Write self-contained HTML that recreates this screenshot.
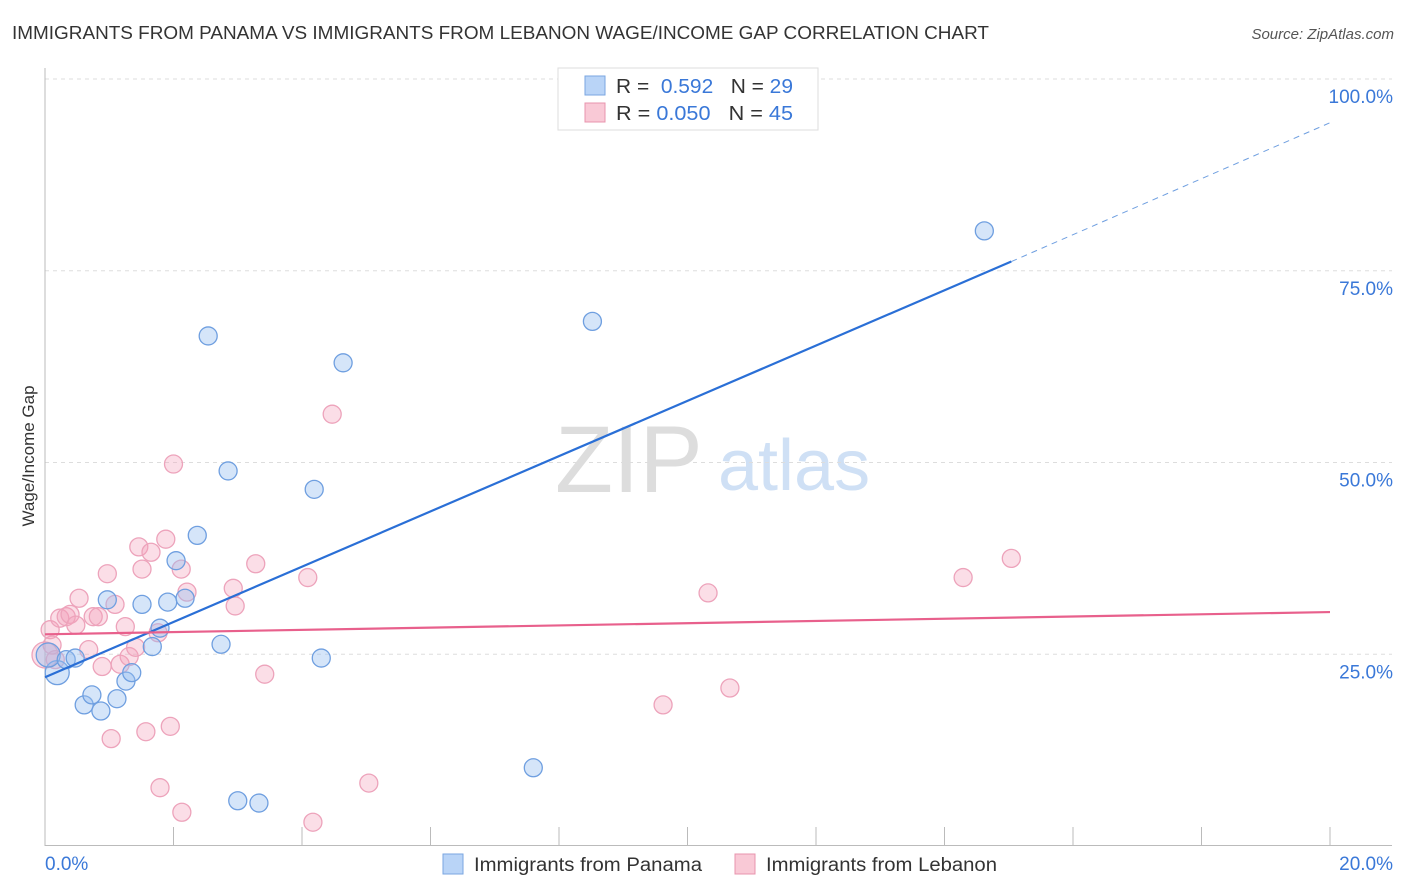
<!DOCTYPE html>
<html><head><meta charset="utf-8"><style>
body{margin:0;background:#fff;font-family:"Liberation Sans",sans-serif;}
#wrap{position:relative;width:1406px;height:892px;overflow:hidden}
text{font-family:"Liberation Sans",sans-serif}
</style></head><body><div id="wrap">
<svg id="svg" width="1406" height="892" xmlns="http://www.w3.org/2000/svg">
<text x="12" y="39" font-size="18" fill="#333" textLength="977" lengthAdjust="spacingAndGlyphs">IMMIGRANTS FROM PANAMA VS IMMIGRANTS FROM LEBANON WAGE/INCOME GAP CORRELATION CHART</text>
<text x="1394" y="39" font-size="15" fill="#555" text-anchor="end" font-style="italic">Source: ZipAtlas.com</text>
<text x="34" y="456" font-size="17" fill="#333" text-anchor="middle" transform="rotate(-90 34 456)">Wage/Income Gap</text>
<text x="555" y="492" font-size="95" fill="#ddd" font-family="Liberation Serif">ZIP</text>
<text x="718" y="490" font-size="72" fill="#cfe0f5">atlas</text>
<g id="grid"></g><g id="pts"></g><g id="lines"></g>
<g>
<rect x="558" y="68" width="260" height="62" fill="#fff" stroke="#ddd"/>
<rect x="585" y="76" width="20" height="19" fill="#b9d4f7" stroke="#7aa6e0"/>
<text x="616" y="93" font-size="20" fill="#333" textLength="177" lengthAdjust="spacingAndGlyphs">R = <tspan fill="#3a78d8">&#160;0.592</tspan>&#160;&#160;&#160;N = <tspan fill="#3a78d8">29</tspan></text>
<rect x="585" y="103" width="20" height="19" fill="#f9c9d6" stroke="#e894ad"/>
<text x="616" y="120" font-size="20" fill="#333" textLength="177" lengthAdjust="spacingAndGlyphs">R = <tspan fill="#3a78d8">0.050</tspan>&#160;&#160;&#160;N = <tspan fill="#3a78d8">45</tspan></text>
</g>
<g>
<rect x="443" y="854" width="20" height="20" fill="#b9d4f7" stroke="#7aa6e0"/>
<text x="474" y="871" font-size="19" fill="#333" textLength="228" lengthAdjust="spacingAndGlyphs">Immigrants from Panama</text>
<rect x="735" y="854" width="20" height="20" fill="#f9c9d6" stroke="#e894ad"/>
<text x="766" y="871" font-size="19" fill="#333" textLength="231" lengthAdjust="spacingAndGlyphs">Immigrants from Lebanon</text>
</g>
</svg></div>
<script>
const xTicks=[0,2,4,6,8,10,12,14,16,18,20];
const yTicks=[25,50,75,100];
const panamaX=[0.19,0.05,0.33,0.47,0.61,0.73,0.87,1.12,0.97,1.26,1.35,1.51,1.67,1.79,1.91,2.04,2.18,2.37,2.54,2.74,2.85,3.00,3.33,4.19,4.30,4.64,7.60,8.52,14.62];
const panamaY=[22.6,24.9,24.3,24.5,18.4,19.7,17.6,19.2,32.1,21.5,22.6,31.5,26.0,28.4,31.8,37.2,32.3,40.5,66.5,26.3,48.9,5.9,5.6,46.5,24.5,63.0,10.2,68.4,80.2];
const lebanonX=[0,0.08,0.11,0.16,0.23,0.33,0.39,0.48,0.53,0.75,0.83,0.68,0.89,0.97,1.03,1.09,1.17,1.25,1.31,1.41,1.46,1.51,1.57,1.65,1.76,1.79,1.88,1.95,2.00,2.12,2.13,2.21,2.93,2.96,3.28,3.42,4.09,4.17,4.47,5.04,9.62,10.32,10.66,14.29,15.04];
const lebanonY=[24.9,28.2,26.2,24.3,29.7,29.9,30.2,28.8,32.3,29.9,29.9,25.6,23.4,35.5,14.0,31.5,23.7,28.6,24.7,25.9,39.0,36.1,14.9,38.3,27.8,7.6,40.0,15.6,49.8,36.1,4.4,33.1,33.6,31.3,36.8,22.4,35.0,3.1,56.3,8.2,18.4,33.0,20.6,35.0,37.5];
const panamaLine=[0,22.0,15.04,76.2,20,94.3];
const lebanonLine=[0,27.6,20,30.5];
const NS="http://www.w3.org/2000/svg";
const X=v=>45+v/20*1285, Y=v=>846-v/100*767;
function mk(t,a,p){const e=document.createElementNS(NS,t);for(const k in a)e.setAttribute(k,a[k]);p.appendChild(e);return e;}
const g=document.getElementById('grid');
yTicks.forEach(t=>{const l=mk('line',{x1:45,x2:1392,y1:Y(t),y2:Y(t),stroke:'#ddd','stroke-dasharray':'4,4'},g);


const tx=mk('text',{x:1393,y:Y(t)+24,'font-size':19,fill:'#3a78d8','text-anchor':'end'},g);tx.textContent=t.toFixed(1)+'%';

});
mk('line',{x1:45,x2:45,y1:68,y2:846,stroke:'#bbb'},g);
mk('line',{x1:45,x2:1392,y1:845.5,y2:845.5,stroke:'#bbb'},g);
xTicks.forEach(t=>{if(t>0){const l=mk('line',{x1:X(t),x2:X(t),y1:827,y2:846,stroke:'#bbb'},g);

}});
const xl0=mk('text',{x:45,y:870,'font-size':19,fill:'#3a78d8'},g);xl0.textContent=xTicks[0].toFixed(1)+'%';


const xl1=mk('text',{x:1393,y:870,'font-size':19,fill:'#3a78d8','text-anchor':'end'},g);xl1.textContent=xTicks[10].toFixed(1)+'%';


const p=document.getElementById('pts');
lebanonX.forEach((v,i)=>{const c=mk('circle',{cx:X(v),cy:Y(lebanonY[i]),r:i==0?13:9,fill:'rgba(244,160,186,0.35)',stroke:'#eda3bb','stroke-width':1.3},p);

});
panamaX.forEach((v,i)=>{const c=mk('circle',{cx:X(v),cy:Y(panamaY[i]),r:i<2?12:9,fill:'rgba(150,190,240,0.4)',stroke:'#6f9fe0','stroke-width':1.3},p);

});
const L=document.getElementById('lines');
const b1=mk('line',{x1:X(panamaLine[0]),y1:Y(panamaLine[1]),x2:X(panamaLine[2]),y2:Y(panamaLine[3]),stroke:'#2a6fd6','stroke-width':2.2},L);


const b2=mk('line',{x1:X(panamaLine[2]),y1:Y(panamaLine[3]),x2:X(panamaLine[4]),y2:Y(panamaLine[5]),stroke:'#6f9fe0','stroke-width':1,'stroke-dasharray':'6,5'},L);


const r1=mk('line',{x1:X(lebanonLine[0]),y1:Y(lebanonLine[1]),x2:X(lebanonLine[2]),y2:Y(lebanonLine[3]),stroke:'#e8608c','stroke-width':2.2},L);


</script></body></html>
